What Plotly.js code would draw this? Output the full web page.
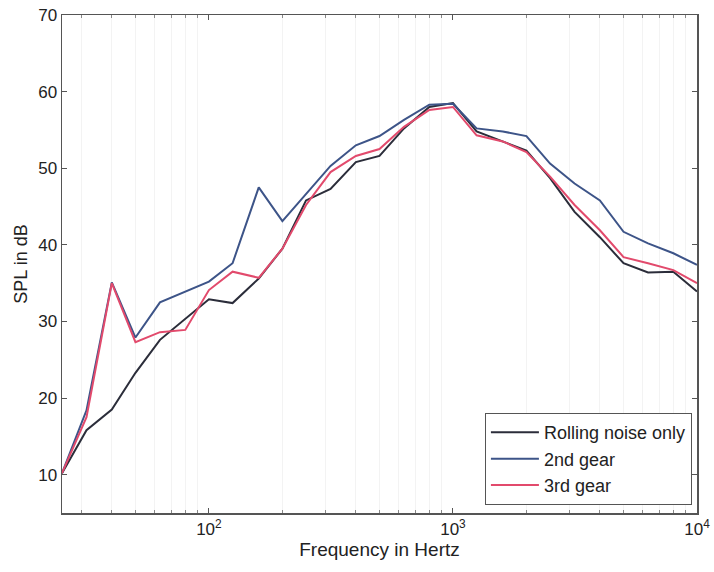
<!DOCTYPE html>
<html>
<head>
<meta charset="utf-8">
<script src="https://cdn.plot.ly/plotly-3.0.1.min.js"></script>
<style>body{margin:0;background:#fff}#chart{width:714px;height:572px}</style>
</head>
<body>
<div id="chart"></div>
<script>
const freqs = [25, 31.5, 40, 50, 63, 80, 100, 125, 160, 200, 250, 315, 400, 500, 630, 800, 1000, 1250, 1600, 2000, 2500, 3150, 4000, 5000, 6300, 8000, 10000];
const rollingNoise = [10.2, 15.8, 18.5, 23.3, 27.6, 30.4, 32.9, 32.4, 35.6, 39.5, 45.8, 47.3, 50.8, 51.6, 55.2, 58.0, 58.5, 54.8, 53.5, 52.3, 48.7, 44.3, 41.0, 37.6, 36.4, 36.5, 33.9];
const gear2 = [10.2, 18.4, 35.1, 27.9, 32.5, 33.9, 35.2, 37.6, 47.5, 43.1, 46.6, 50.3, 53.0, 54.2, 56.3, 58.3, 58.4, 55.2, 54.8, 54.2, 50.6, 48.0, 45.8, 41.7, 40.2, 38.9, 37.4];
const gear3 = [10.2, 17.5, 35.0, 27.3, 28.6, 28.9, 34.1, 36.5, 35.7, 39.5, 45.2, 49.5, 51.6, 52.5, 55.4, 57.6, 58.0, 54.3, 53.5, 52.1, 48.9, 45.2, 41.9, 38.4, 37.6, 36.7, 35.0];
const seriesNames = ["Rolling noise only", "2nd gear", "3rd gear"];
const xTickVals = [100, 1000, 10000];
const xTickText = ["10<sup>2</sup>", "10<sup>3</sup>", "10<sup>4</sup>"];
const xMinorVals = [30, 40, 50, 60, 70, 80, 90, 200, 300, 400, 500, 600, 700, 800, 900, 2000, 3000, 4000, 5000, 6000, 7000, 8000, 9000];
const yTickVals = [10, 20, 30, 40, 50, 60, 70];

const colors = ["#2b2d3a", "#3d5488", "#e24a6c"];
const data = [rollingNoise, gear2, gear3].map((y, i) => ({
  x: freqs, y: y, type: "scatter", mode: "lines", name: seriesNames[i],
  line: {color: colors[i], width: 2}
}));

const layout = {
  width: 714, height: 572,
  margin: {l: 62, r: 17, t: 15, b: 59},
  paper_bgcolor: "#fff", plot_bgcolor: "#fff",
  font: {family: "Liberation Sans, Arial, sans-serif", color: "#222", size: 17},
  showlegend: true,
  legend: {
    x: 0.992, y: 0.016, xanchor: "right", yanchor: "bottom",
    bordercolor: "#555", borderwidth: 1, bgcolor: "#fff",
    font: {size: 18, color: "#222"}, tracegroupgap: 0, itemwidth: 48
  },
  xaxis: {
    type: "log", range: [Math.log10(25), 4],
    tickmode: "array", tickvals: xTickVals, ticktext: xTickText,
    ticks: "inside", ticklen: 5, tickcolor: "#555",
    tickfont: {size: 17},
    showline: true, linecolor: "#555", linewidth: 1.5, mirror: "ticks",
    showgrid: false, zeroline: false,
    minor: {tickmode: "array", tickvals: xMinorVals, ticks: "inside", ticklen: 3, tickcolor: "#888",
            showgrid: true, gridcolor: "#f3f3f3", gridwidth: 1},
    title: {text: "Frequency in Hertz", font: {size: 19, color: "#222"}, standoff: 4}
  },
  yaxis: {
    range: [5, 70], tickmode: "array", tickvals: yTickVals,
    ticks: "inside", ticklen: 5, tickcolor: "#555",
    tickfont: {size: 17},
    showline: true, linecolor: "#555", linewidth: 1.5, mirror: "ticks",
    showgrid: false, zeroline: false,
    title: {text: "SPL in dB", font: {size: 18, color: "#222"}, standoff: 6}
  }
};
Plotly.newPlot("chart", data, layout, {displayModeBar: false, staticPlot: true});
</script>
</body>
</html>
